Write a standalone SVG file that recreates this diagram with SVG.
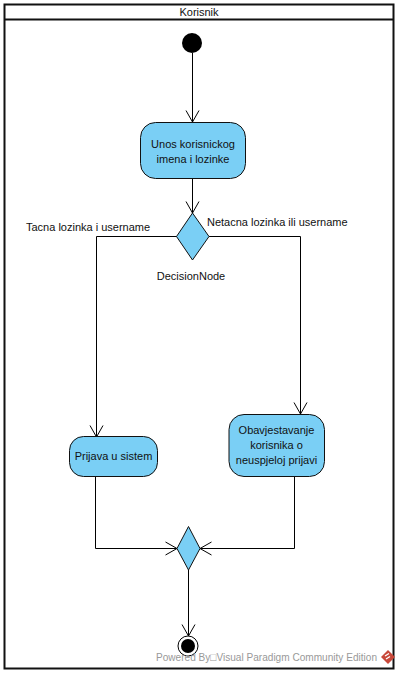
<svg xmlns="http://www.w3.org/2000/svg" width="400" height="674" viewBox="0 0 400 674">
<defs>
<marker id="open" markerUnits="userSpaceOnUse" markerWidth="16" markerHeight="16" refX="12" refY="8" orient="auto" overflow="visible">
<path d="M0.5 1.5L12 8L0.5 14.5" fill="none" stroke="#000" stroke-width="1"/>
</marker>
</defs>
<style>
text{font-family:"Liberation Sans",Arial,sans-serif;font-size:11px;fill:#111}
.c{text-anchor:middle}
.n{fill:#7ACFF5;stroke:#111;stroke-width:1}
.e{fill:none;stroke:#000;stroke-width:1}
</style>
<rect width="400" height="674" fill="#fff"/>
<g id="swimlane">
<rect x="4.5" y="4.5" width="389" height="664" fill="#fff" stroke="#111" stroke-width="2"/>
<line x1="4.5" y1="19.5" x2="393.5" y2="19.5" stroke="#111" stroke-width="2"/>
<text class="c" x="199" y="16">Korisnik</text>
</g>
<g id="connectors">
<path class="e" d="M192.500 53V122" marker-end="url(#open)"/>
<path class="e" d="M192.500 178V213" marker-end="url(#open)"/>
<path class="e" d="M177 236.500H96.500V437" marker-end="url(#open)"/>
<path class="e" d="M209 236.500H300.500V414" marker-end="url(#open)"/>
<path class="e" d="M95.500 476V548.500H177" marker-end="url(#open)"/>
<path class="e" d="M294.500 476V548.500H200" marker-end="url(#open)"/>
<path class="e" d="M188.500 570V636" marker-end="url(#open)"/>
</g>
<g id="start"><circle cx="192" cy="43" r="10" fill="#000"/></g>
<g id="unos">
<rect class="n" x="140.500" y="122.500" width="105" height="56" rx="15"/>
<text class="c" x="193" y="148">Unos korisnickog</text>
<text class="c" x="193" y="163">imena i lozinke</text>
</g>
<g id="decision">
<polygon class="n" points="192.500,213 209,236.500 192.500,260 176.500,236.500"/>
<text class="c" x="191" y="280">DecisionNode</text>
</g>
<g id="label-true"><text x="26" y="231">Tacna lozinka i username</text></g>
<g id="label-false"><text x="207" y="226">Netacna lozinka ili username</text></g>
<g id="prijava">
<rect class="n" x="69.500" y="436.500" width="88" height="40" rx="14"/>
<text class="c" x="113.500" y="460">Prijava u sistem</text>
</g>
<g id="obavjestavanje">
<rect class="n" x="229" y="414.500" width="95.500" height="62" rx="15"/>
<text class="c" x="276.500" y="434">Obavjestavanje</text>
<text class="c" x="276.500" y="449">korisnika o</text>
<text class="c" x="276.500" y="464">neuspjeloj prijavi</text>
</g>
<g id="merge"><polygon class="n" points="188.500,526.500 200,548.500 188.500,570 177,548.500"/></g>
<g id="end">
<circle cx="188" cy="646" r="10" fill="#fff" stroke="#000" stroke-width="1"/>
<circle cx="188" cy="646" r="7" fill="#000"/>
</g>
<g id="watermark">
<text x="156" y="661" textLength="221" lengthAdjust="spacingAndGlyphs" style="fill:#999">Powered By□Visual Paradigm Community Edition</text>
<polygon points="388,650 395,657 388,664 381,657" fill="#C8483A"/>
<path d="M385 656L389 653.500M386 659L390 656.500" stroke="#fff" stroke-width="1.300" fill="none"/>
</g>
</svg>
